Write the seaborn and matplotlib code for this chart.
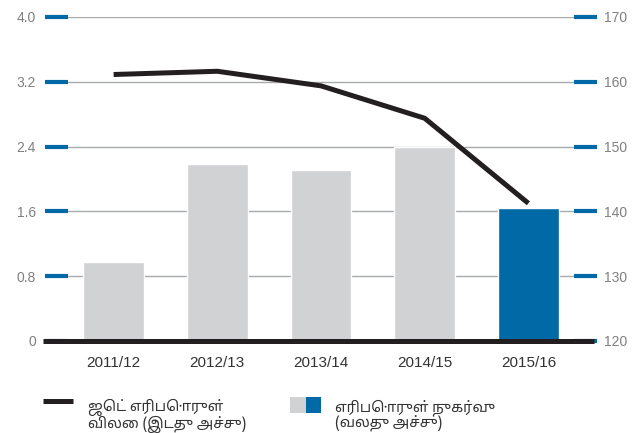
import numpy as np
import pandas as pd
import matplotlib
matplotlib.use('Agg')
import matplotlib.pyplot as plt
from matplotlib.lines import Line2D
from matplotlib.patches import Rectangle
import seaborn as sns

# data
years = ['2011/12', '2012/13', '2013/14', '2014/15', '2015/16']
jet_price = [3.29, 3.33, 3.15, 2.75, 1.70]        # left axis
fuel_use = [132.2, 147.3, 146.4, 149.9, 140.5]    # right axis
bar_colors = ['#d1d2d4', '#d1d2d4', '#d1d2d4', '#d1d2d4', '#0069a6']
left_ticks = [0, 0.8, 1.6, 2.4, 3.2, 4.0]
left_labels = ['0', '0.8', '1.6', '2.4', '3.2', '4.0']
right_ticks = [120, 130, 140, 150, 160, 170]
line_label = ['ஜெட் எரிபொருள்', 'விலை (இடது அச்சு)']
bar_label = ['எரிபொருள் நுகர்வு', '(வலது அச்சு)']

sns.set_style('white')
plt.rcParams['font.family'] = ['Liberation Sans', 'Noto Sans Tamil', 'Lohit Tamil', 'DejaVu Sans']
tamil_fonts = ['Noto Sans Tamil', 'Lohit Tamil', 'Noto Serif Tamil', 'FreeSans', 'DejaVu Sans']

BLUE = '#0069a6'
GREY = '#d1d2d4'
BLACK = '#231f20'

df = pd.DataFrame({'year': years, 'price': jet_price, 'use': fuel_use,
                   'pos': np.arange(len(years))})

W, H = 638, 433
fig = plt.figure(figsize=(W / 100, H / 100), dpi=100)
ax = fig.add_axes([68 / W, 1 - 341 / H, 506 / W, 324 / H])
ax2 = ax.twinx()

# bars on right axis
sns.barplot(data=df, x='year', y='use', hue='year', palette=bar_colors,
            saturation=1, width=0.585, legend=False, ax=ax2)
ax2.set_ylim(120, 170)
ax2.set_yticks(right_ticks)
ax2.yaxis.grid(True, color='#a7a9ac', linewidth=1)
ax2.set_axisbelow(True)

# line on left axis, drawn above bars
ax.set_zorder(ax2.get_zorder() + 1)
ax.patch.set_visible(False)
sns.lineplot(data=df, x='pos', y='price', color=BLACK, linewidth=3.6,
             sort=False, ax=ax, solid_capstyle='butt')
ax.set_ylim(0, 4.0)
ax.set_yticks(left_ticks)
ax.set_yticklabels(left_labels)
ax.set_xlim(-0.44, 4.44)
ax2.set_xlim(-0.44, 4.44)
ax.set_xticks(range(len(years)))
ax.set_xticklabels(years)

# baseline across both tick areas
ax.axhline(0, xmin=-0.05, xmax=1.04, color=BLACK, linewidth=3.6,
           clip_on=False, solid_capstyle='butt', zorder=5)

for a in (ax, ax2):
    for s in a.spines.values():
        s.set_visible(False)
    a.set_xlabel('')
    a.set_ylabel('')
ax.tick_params(axis='y', which='major', length=16.5, width=3, color=BLUE,
               direction='out', pad=6.5, labelsize=10, labelcolor='#808080')
ax2.tick_params(axis='y', which='major', length=16.5, width=3, color=BLUE,
                direction='out', pad=5, labelsize=10, labelcolor='#808080')
ax.tick_params(axis='x', length=0, pad=11, labelsize=11, labelcolor='#333333')
ax2.tick_params(axis='x', length=0, labelbottom=False)

# legend, drawn by hand so the keys sit beside the first text line
fig.add_artist(Line2D([43 / W, 73 / W], [1 - 401 / H, 1 - 401 / H],
                      color=BLACK, linewidth=3.6, solid_capstyle='butt'))
fig.add_artist(Rectangle((290 / W, 1 - 413 / H), 15.5 / W, 16 / H,
                         color=GREY, linewidth=0))
fig.add_artist(Rectangle((305.5 / W, 1 - 413 / H), 15.5 / W, 16 / H,
                         color=BLUE, linewidth=0))
for x0, lines in ((88, line_label), (335, bar_label)):
    for i, txt in enumerate(lines):
        fig.text(x0 / W, 1 - (411 + 17 * i) / H, txt, family=tamil_fonts,
                 fontsize=10.5, color='#333333', va='baseline', ha='left')

fig.savefig('out.png', dpi=100)
